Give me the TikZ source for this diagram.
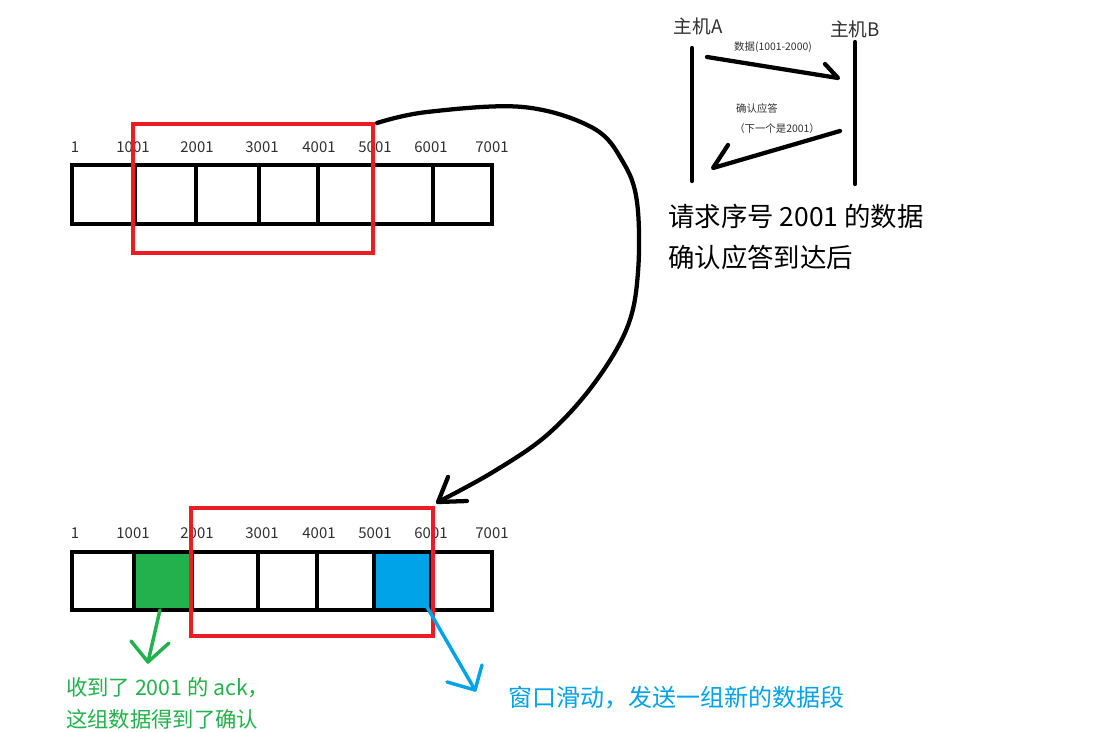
\documentclass[tikz,border=0pt]{standalone}
\usepackage{fontspec}
\setmainfont{Noto Sans CJK SC}
\definecolor{boxred}{HTML}{ED1C24}
\definecolor{ackgreen}{HTML}{22B14C}
\definecolor{slideblue}{HTML}{00A2E8}
\definecolor{txt}{HTML}{303030}
\tikzset{
  cellline/.style={line width=3.6pt, draw=black},
  winbox/.style={line width=3pt, draw=boxred},
  num/.style={font=\fontsize{11.2}{13}\selectfont, text=txt, inner sep=0pt},
  hostlbl/.style={font=\fontsize{14}{16}\selectfont, text=txt, inner sep=0pt},
  tiny/.style={font=\fontsize{7.8}{9}\selectfont, text=txt, inner sep=0pt},
  bigtxt/.style={font=\fontsize{19.8}{23}\selectfont, text=black, inner sep=0pt, anchor=west},
  hand/.style={line width=3.2pt, line cap=round, line join=round},
}
\begin{document}
\begin{tikzpicture}[x=0.75pt,y=-0.75pt]
\useasboundingbox[fill=white] (0,0) rectangle (1116,731);

% ---------- top array ----------
\foreach \a/\b in {72/135,135/196,196/259,259/318,318/373,373/433,433/492}{
  \draw[cellline] (\a,165) rectangle (\b,224);
}
\foreach \x/\t [count=\i] in {75/1,133/1001,197/2001,262/3001,319/4001,375/5001,431/6001,492/7001}{
  \node[num] (tn\i) at (\x,147) {\t};
}
\draw[winbox] (133,124) rectangle (373,253);
\coordinate (curvestart) at (377,123);

% ---------- bottom array ----------
\fill[ackgreen] (134,552) rectangle (192,610);
\fill[slideblue] (374,552) rectangle (431,610);
\foreach \a/\b in {72/134,134/192,192/258,258/317,317/374,374/431,431/492}{
  \draw[cellline] (\a,552) rectangle (\b,610);
}
\foreach \x/\t [count=\i] in {75/1,133/1001,197/2001,262/3001,319/4001,375/5001,431/6001,492/7001}{
  \node[num] (bn\i) at (\x,533) {\t};
}
\draw[winbox] (191,508) rectangle (433,636);

% ---------- big curved arrow ----------
\coordinate (curveend) at (438,502);
\draw[hand] plot[smooth, tension=0.6] coordinates {(curvestart) (427,112) (523,107) (593,128) (623,162) (637,202) (638,272) (627,328) (593,385) (547,435) (493,472) (curveend)};
\draw[hand] (448,477) -- (curveend) -- (467,501);

% ---------- green arrow & text ----------
\coordinate (gs) at (160,610);
\coordinate (gt) at (148,662);
\draw[hand, draw=ackgreen, line width=2.6pt] (gs) -- (gt);
\draw[hand, draw=ackgreen, line width=2.6pt] (131,641) -- (gt) -- (169,643);
\node[font=\fontsize{16}{18}\selectfont, text=ackgreen, inner sep=0pt, anchor=west] (gtxt1) at (66,688) {收到了 2001 的 ack，};
\node[font=\fontsize{16}{18}\selectfont, text=ackgreen, inner sep=0pt, anchor=west] (gtxt2) at (66,719) {这组数据得到了确认};

% ---------- blue arrow & text ----------
\coordinate (bs) at (427,607);
\coordinate (bt) at (475,690);
\draw[hand, draw=slideblue, line width=2.6pt] (bs) -- (bt);
\draw[hand, draw=slideblue, line width=2.6pt] (482,665) -- (bt) -- (447,682);
\node[font=\fontsize{18}{20}\selectfont, text=slideblue, inner sep=0pt, anchor=west] (btxt) at (508,698) {窗口滑动，发送一组新的数据段};

% ---------- host diagram ----------
\node[hostlbl] (hA) at (698,26) {主机A};
\node[hostlbl] (hB) at (855,29) {主机B};
\coordinate (a1) at (692,48);
\coordinate (a2) at (692,181);
\coordinate (b1) at (855,42);
\coordinate (b2) at (855,184);
\draw[hand] (a1) -- (a2);
\draw[hand] (b1) -- (b2);
\coordinate (m1s) at (707,57);
\coordinate (m1t) at (838,78);
\draw[hand] (m1s) -- (m1t) -- (825,64);
\node[tiny] (m1l) at (773,47) {数据(1001-2000)};
\coordinate (m2s) at (840,131);
\coordinate (m2t) at (713,168);
\draw[hand] (m2s) -- (m2t) -- (728,145);
\node[tiny] (m2l1) at (757,109) {确认应答};
\node[tiny] (m2l2) at (777,129) {（下一个是2001）};

\node[bigtxt] (r1) at (668,216) {请求序号 2001 的数据};
\node[bigtxt] (r2) at (668,257) {确认应答到达后};
\end{tikzpicture}
\end{document}
